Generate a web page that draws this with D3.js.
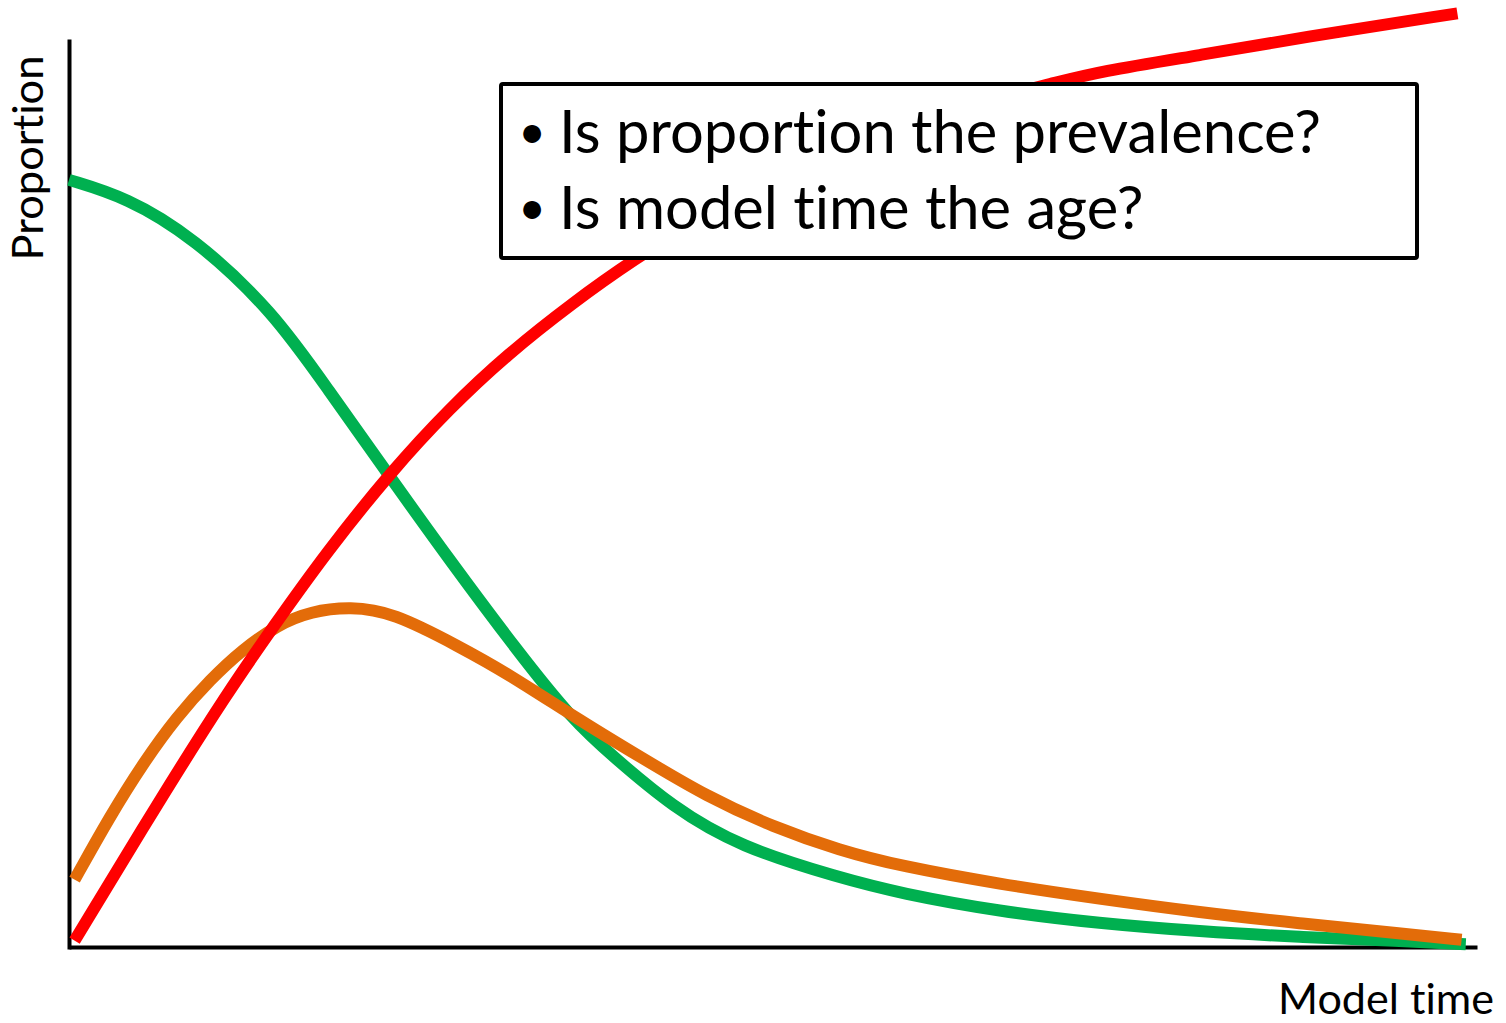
<!DOCTYPE html>
<html>
<head>
<meta charset="utf-8">
<script src="https://cdn.jsdelivr.net/npm/d3@7"></script>
<style>
  html, body { margin: 0; padding: 0; background: #fff; }
  svg { display: block; }
  text { font-family: Lato, "Open Sans", "Liberation Sans", sans-serif; fill: #000; font-variant-ligatures: none; }
</style>
</head>
<body>
<svg id="chart" width="1506" height="1023"></svg>
<script>
// Model time (0..100) and proportion (0..1) for the three compartments
const timeGreen = [0, 4.1, 8.9, 14.6, 18.4, 23.1, 27.2, 32, 36, 38.9, 43.1, 47.9, 55.1, 59.4, 66.5, 73.6, 80.8, 87.9, 95.1, 99.8];
const susceptible = [0.843, 0.824, 0.780, 0.698, 0.615, 0.513, 0.425, 0.326, 0.249, 0.209, 0.154, 0.110, 0.076, 0.059, 0.039, 0.026, 0.017, 0.011, 0.0066, 0.003];

const timeOrange = [0.4, 2.9, 5.3, 7.7, 10.1, 12.4, 14.9, 17.3, 20.1, 23.1, 27.9, 31.3, 36.5, 40.8, 45.6, 50.3, 55.1, 59.4, 66.5, 73.6, 80.8, 87.9, 95.1, 99.5];
const infected = [0.074, 0.143, 0.202, 0.253, 0.294, 0.327, 0.354, 0.369, 0.374, 0.368, 0.330, 0.301, 0.249, 0.209, 0.165, 0.132, 0.106, 0.089, 0.069, 0.053, 0.038, 0.026, 0.015, 0.008];

const timeRed = [0.4, 6.5, 11.3, 14.6, 18.4, 23.1, 27.2, 31.3, 36, 40.3, 45.1, 52.2, 59.4, 66.5, 70.1, 73.6, 80.8, 87.9, 99.2];
const recovered = [0.007, 0.162, 0.279, 0.352, 0.434, 0.524, 0.592, 0.651, 0.708, 0.755, 0.801, 0.859, 0.903, 0.935, 0.948, 0.962, 0.980, 0.999, 1.026];

const xDomain = [0, 100.6];
const yDomain = [0, 1];

const axisTitleX = "Model time";
const axisTitleY = "Proportion";
const questions = ["Is proportion the prevalence?", "Is model time the age?"];

const svg = d3.select("#chart");

const x = d3.scaleLinear().domain(xDomain).range([69, 1477]);
const y = d3.scaleLinear().domain(yDomain).range([947, 37]);

// Axes: plain black lines, no ticks
svg.append("g")
  .attr("transform", `translate(0,${y(0)})`)
  .call(d3.axisBottom(x).ticks(0).tickSizeOuter(0))
  .call(g => g.select(".domain").attr("stroke", "#000").attr("stroke-width", 4));

svg.append("g")
  .attr("transform", `translate(${x(0)},2)`)
  .call(d3.axisLeft(y).ticks(0).tickSizeOuter(0))
  .call(g => g.select(".domain").attr("stroke", "#000").attr("stroke-width", 4));

// Curves
const line = d3.line()
  .x(d => x(d[0]))
  .y(d => y(d[1]))
  .curve(d3.curveBasis);

const series = [
  { t: timeGreen, v: susceptible, color: "#00B050" },
  { t: timeOrange, v: infected, color: "#E36C09" },
  { t: timeRed, v: recovered, color: "#FF0000" }
];

svg.append("g").selectAll("path")
  .data(series)
  .join("path")
  .attr("d", s => line(d3.zip(s.t, s.v)))
  .attr("fill", "none")
  .attr("stroke", s => s.color)
  .attr("stroke-width", 12)
  .attr("stroke-linecap", "butt");

// Fit a text element to a given width
function fitWidth(sel, width) {
  sel.attr("font-size", 100);
  const len = sel.node().getComputedTextLength();
  const size = 100 * width / len;
  sel.attr("font-size", size);
  return size;
}

// Question box
const box = svg.append("g");
box.append("rect")
  .attr("x", 501).attr("y", 84)
  .attr("width", 916).attr("height", 174)
  .attr("rx", 2)
  .attr("fill", "#fff")
  .attr("stroke", "#000")
  .attr("stroke-width", 4);

const baselines = [153, 229];
const q1 = box.append("text").attr("x", 559).attr("y", baselines[0]).text(questions[0]);
const fs = fitWidth(q1, 762);
box.append("text").attr("x", 559).attr("y", baselines[1]).attr("font-size", fs).text(questions[1]);
baselines.forEach(b => {
  box.append("text")
    .attr("x", 532).attr("y", b - 5)
    .attr("text-anchor", "middle")
    .attr("font-size", fs * 0.8)
    .text("•");
});

// Axis titles
const yt = svg.append("text")
  .attr("transform", "translate(43,158) rotate(-90)")
  .attr("text-anchor", "middle")
  .text(axisTitleY);
fitWidth(yt, 205);

const xt = svg.append("text")
  .attr("x", 1494).attr("y", 1014)
  .attr("text-anchor", "end")
  .text(axisTitleX);
fitWidth(xt, 216);
</script>
</body>
</html>
